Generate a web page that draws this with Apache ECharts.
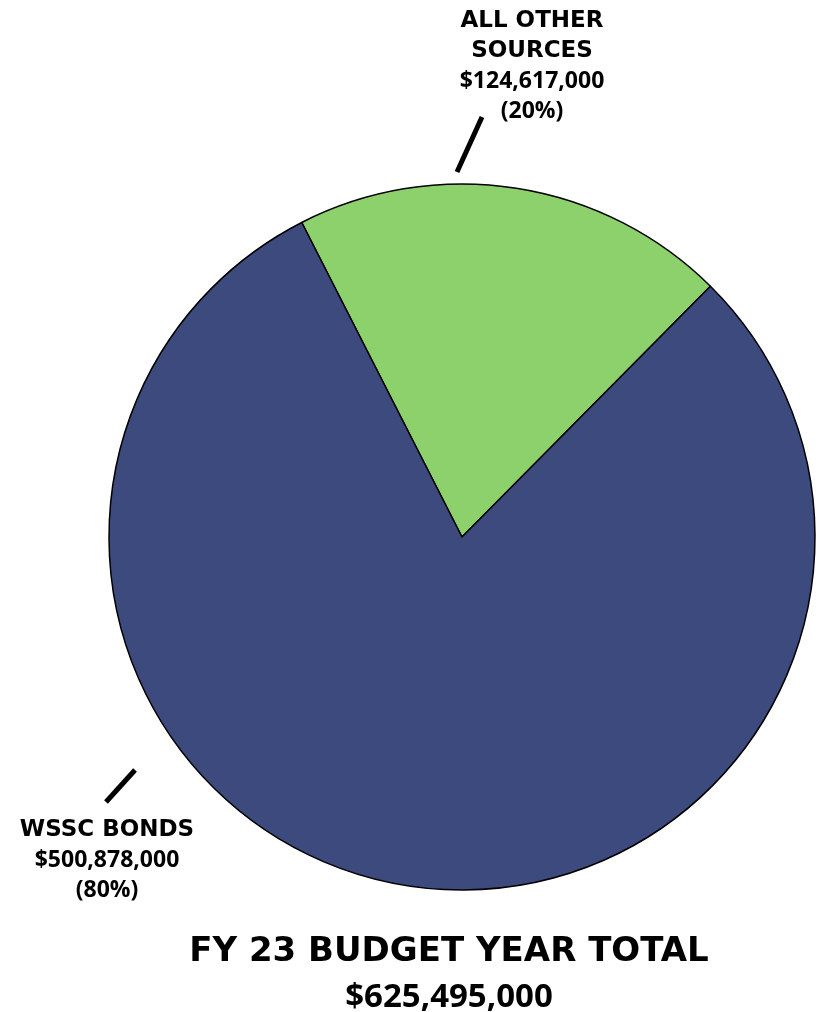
<!DOCTYPE html>
<html>
<head>
<meta charset="utf-8">
<script src="https://cdn.jsdelivr.net/npm/echarts@6/dist/echarts.min.js"></script>
<style>
html,body{margin:0;padding:0;background:#fff;}
#chart{width:818px;height:1012px;}
</style>
</head>
<body>
<div id="chart"></div>
<script>
const categories = ['ALL OTHER\nSOURCES', 'WSSC BONDS'];
const values = [124617000, 500878000];
const percents = ['20%', '80%'];
const totalLabel = ['FY 23 BUDGET YEAR TOTAL', '$625,495,000'];

const colors = ['#8DD16D', '#3D4A7E'];
const labelPos = [[532, 66], [107, 860]];

const chart = echarts.init(document.getElementById('chart'), null, {renderer: 'canvas'});
const fmt = v => '$' + v.toLocaleString('en-US');

chart.setOption({
  animation: false,
  backgroundColor: '#ffffff',
  title: {
    text: '{a|' + totalLabel[0] + '}\n{b|' + totalLabel[1] + '}',
    left: 449,
    top: 930,
    padding: 0,
    textAlign: 'center',
    textStyle: {
      rich: {
        a: {fontFamily: 'DejaVu Sans', fontWeight: 'bold', fontSize: 34, lineHeight: 45, color: '#000', align: 'center'},
        b: {fontFamily: 'Open Sans', fontWeight: 'bold', fontSize: 33, lineHeight: 45, color: '#000', align: 'center'}
      }
    }
  },
  series: [{
    type: 'pie',
    center: [462, 537],
    radius: 353,
    startAngle: 117,
    clockwise: true,
    data: categories.map((c, i) => ({
      name: c,
      value: values[i],
      itemStyle: {color: colors[i]}
    })),
    itemStyle: {borderColor: '#000', borderWidth: 1.5},
    label: {
      show: true,
      position: 'outside',
      formatter: p => p.name.split('\n').map(s => '{n|' + s + '}').join('\n') +
        '\n{v|' + fmt(p.value) + '}\n{v|(' + percents[p.dataIndex] + ')}',
      align: 'center',
      rich: {
        n: {fontFamily: 'DejaVu Sans', fontWeight: 'bold', fontSize: 23, lineHeight: 30, color: '#000', align: 'center'},
        v: {fontFamily: 'Open Sans', fontWeight: 'bold', fontSize: 23, lineHeight: 30, color: '#000', align: 'center'}
      }
    },
    labelLine: {show: false},
    labelLayout: p => ({
      x: labelPos[p.dataIndex][0],
      y: labelPos[p.dataIndex][1],
      align: 'center',
      verticalAlign: 'middle'
    }),
    emphasis: {disabled: true}
  }],
  graphic: [
    {type: 'line', shape: {x1: 457, y1: 172, x2: 482, y2: 117}, style: {stroke: '#000', lineWidth: 5}},
    {type: 'line', shape: {x1: 106, y1: 802, x2: 135, y2: 770}, style: {stroke: '#000', lineWidth: 5}}
  ]
});
</script>
</body>
</html>
